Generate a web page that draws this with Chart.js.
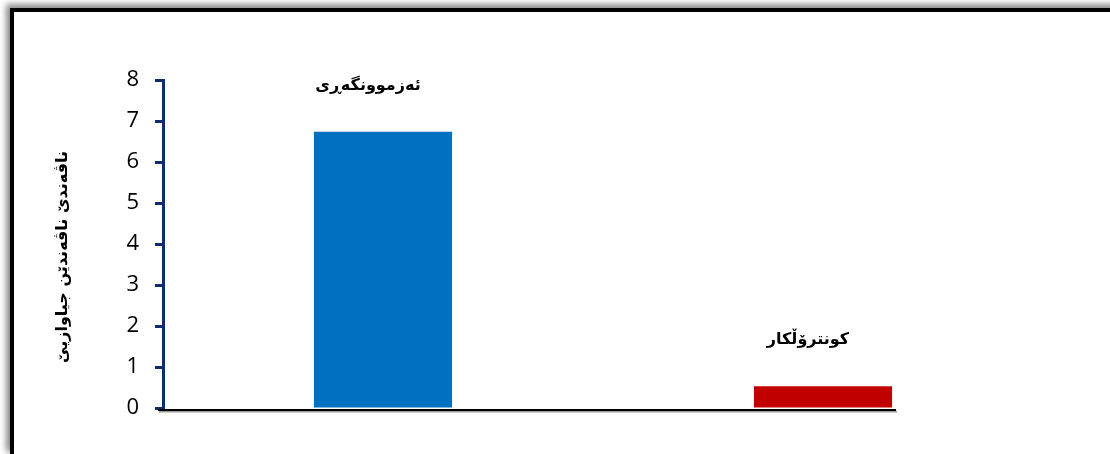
<!DOCTYPE html>
<html>
<head>
<meta charset="utf-8">
<script src="https://cdn.jsdelivr.net/npm/chart.js@4.4.1/dist/chart.umd.min.js"></script>
<style>
  body { margin: 0; background: #fff; }
  #wrap { position: relative; width: 1110px; height: 454px; overflow: hidden; }
  #frame {
    position: absolute; left: 10px; top: 8px; width: 1120px; height: 443px;
    border-left: 4px solid #000; border-top: 4px solid #000;
    border-bottom: 1px solid #e2e2e2;
    box-shadow: -4px -4px 6px rgba(0,0,0,0.45);
    pointer-events: none;
  }
</style>
</head>
<body>
<div id="wrap">
  <canvas id="chart1" width="1110" height="454"></canvas>
  <div id="frame"></div>
</div>
<script>
const categories = ['ئەزموونگەڕی', 'کونترۆڵکار'];
const values = [6.74, 0.53];
const barColors = ['#0070C0', '#C00000'];
const yTicks = [0, 1, 2, 3, 4, 5, 6, 7, 8];
const yTitle = 'ناڤەندێ ناڤەندێن جیاوازیێ';

const axisBlue = '#0E2C6E';

// labels above the bars, the y title and the black base line
const extras = {
  id: 'extras',
  afterDatasetsDraw(chart) {
    const ctx = chart.ctx;
    const bars = chart.getDatasetMeta(0).data;
    const area = chart.chartArea;
    ctx.save();
    ctx.font = 'bold 16px "DejaVu Sans"';
    ctx.fillStyle = '#000';
    ctx.textAlign = 'center';
    ctx.textBaseline = 'middle';
    bars.forEach((b, i) => {
      ctx.fillText(categories[i], b.x - 15, b.y - 46);
    });

    // rotated axis title, sits a bit below the middle of the axis
    ctx.save();
    ctx.translate(area.left - 100, (area.top + area.bottom) / 2 + 13);
    ctx.rotate(-Math.PI / 2);
    ctx.font = 'bold 16px "DejaVu Sans"';
    ctx.fillText(yTitle, 0, 0);
    ctx.restore();

    // x axis line with small shadow
    const last = bars[bars.length - 1];
    const x0 = area.left - 5;
    const x1 = last.x + last.width / 2 + 4;
    ctx.fillStyle = '#9a9a9a';
    ctx.fillRect(x0 + 1, area.bottom + 3, x1 - x0, 1.5);
    ctx.fillStyle = '#000';
    ctx.fillRect(x0, area.bottom + 1, x1 - x0, 2);
    ctx.restore();
  }
};

const ctx1 = document.getElementById('chart1').getContext('2d');

new Chart(ctx1, {
  type: 'bar',
  data: {
    labels: categories,
    datasets: [{
      data: values,
      backgroundColor: barColors,
      borderWidth: 0,
      categoryPercentage: 1,
      barPercentage: 0.314
    }]
  },
  options: {
    responsive: false,
    animation: false,
    layout: {
      padding: { left: 54, top: 80, right: 67, bottom: 46 }
    },
    plugins: {
      legend: { display: false },
      tooltip: { enabled: false }
    },
    scales: {
      x: {
        display: false
      },
      y: {
        min: 0,
        max: 8,
        afterBuildTicks: (scale) => {
          scale.ticks = yTicks.map(v => ({ value: v }));
        },
        afterFit: (scale) => {
          scale.width = 109;
        },
        border: { color: axisBlue, width: 3 },
        grid: {
          drawOnChartArea: false,
          drawTicks: true,
          tickLength: 8,
          tickColor: axisBlue,
          tickWidth: 3
        },
        ticks: {
          padding: 16,
          color: '#000',
          font: { family: '"Open Sans"', size: 22 }
        }
      }
    }
  },
  plugins: [extras]
});
</script>
</body>
</html>
